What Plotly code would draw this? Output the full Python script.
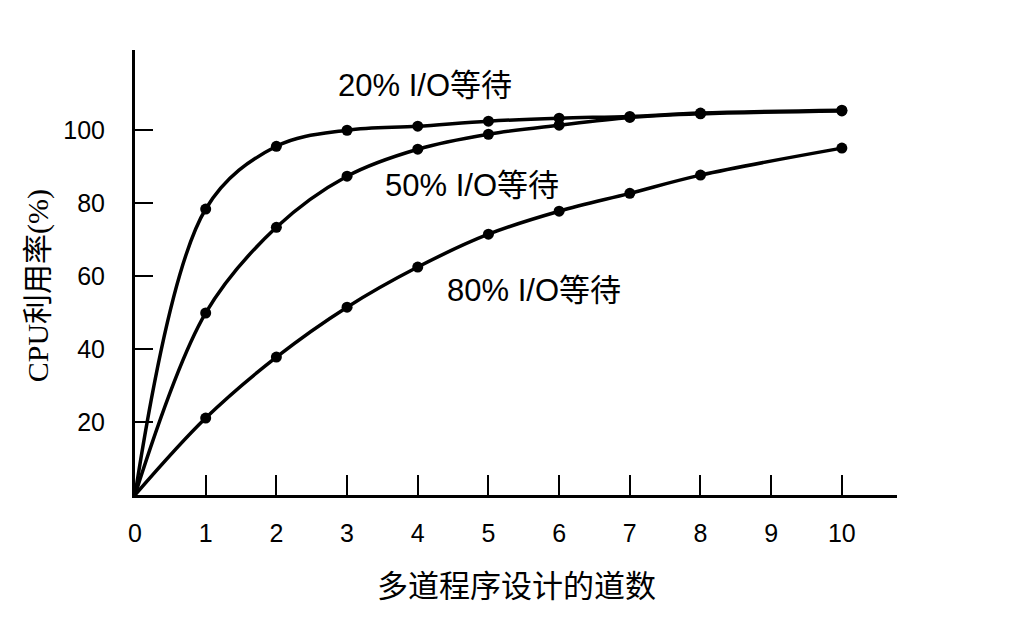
import plotly.graph_objects as go

x_20 = [0, 1, 2, 3, 4, 5, 6, 7, 8, 10]
y_20 = [0, 78.4, 95.6, 100.0, 101.1, 102.5, 103.3, 103.8, 104.7, 105.5]

x_50 = [0, 1, 2, 3, 4, 5, 6, 7, 8, 10]
y_50 = [0, 49.9, 73.4, 87.4, 94.8, 98.9, 101.4, 103.5, 104.5, 105.3]

x_80 = [0, 1, 2, 3, 4, 5, 6, 7, 8, 10]
y_80 = [0, 21.1, 37.8, 51.5, 62.5, 71.5, 77.8, 82.7, 87.7, 95.1]

x_ticks = [0, 1, 2, 3, 4, 5, 6, 7, 8, 9, 10]
y_ticks = [20, 40, 60, 80, 100]

labels = ["20% I/O等待", "50% I/O等待", "80% I/O等待"]
label_x = [4.1, 4.77, 5.64]
label_y = [112.3, 84.9, 56.2]

FONT = "Liberation Sans, Arial, Noto Sans CJK SC, sans-serif"

fig = go.Figure()
for xs, ys in [(x_20, y_20), (x_50, y_50), (x_80, y_80)]:
    fig.add_trace(go.Scatter(
        x=xs[1:], y=ys[1:], mode="markers",
        marker=dict(color="black", size=11),
        showlegend=False, hoverinfo="skip", cliponaxis=False))
    fig.add_trace(go.Scatter(
        x=xs, y=ys, mode="lines", line=dict(color="black", width=3.5, shape="spline", smoothing=1.0),
        showlegend=False, cliponaxis=False))

for t, lx, ly in zip(labels, label_x, label_y):
    fig.add_annotation(x=lx, y=ly, xref="x", yref="y", text=t, showarrow=False,
                       font=dict(family=FONT, size=31, color="black"))

fig.add_annotation(x=0.501, y=-0.198, xref="paper", yref="paper", text="多道程序设计的道数",
                   showarrow=False, xanchor="center", yanchor="middle",
                   font=dict(family="Noto Sans CJK SC", size=31, color="black"))
fig.add_annotation(x=-0.128, y=0.47, xref="paper", yref="paper", text="CPU利用率(%)",
                   showarrow=False, textangle=-90, xanchor="center", yanchor="middle",
                   font=dict(family="Liberation Serif, Noto Sans CJK SC, serif", size=30, color="black"))

fig.update_layout(
    width=1034, height=631,
    margin=dict(l=135, r=137, t=50, b=136),
    paper_bgcolor="white", plot_bgcolor="white",
    font=dict(family=FONT, color="black"),
    xaxis=dict(range=[0, 10.78], tickvals=x_ticks, ticktext=[str(v) for v in x_ticks],
               ticks="inside", ticklen=20, tickwidth=2, tickcolor="black",
               showline=True, linewidth=3, linecolor="black", showgrid=False, zeroline=False,
               tickfont=dict(size=25, color="black"), ticklabelstandoff=14),
    yaxis=dict(range=[0, 122], tickvals=y_ticks, ticktext=[str(v) for v in y_ticks],
               ticks="inside", ticklen=18, tickwidth=2, tickcolor="black",
               showline=True, linewidth=3, linecolor="black", showgrid=False, zeroline=False,
               tickfont=dict(size=25, color="black"), ticklabelstandoff=22),
)

fig.write_html("out.html")
